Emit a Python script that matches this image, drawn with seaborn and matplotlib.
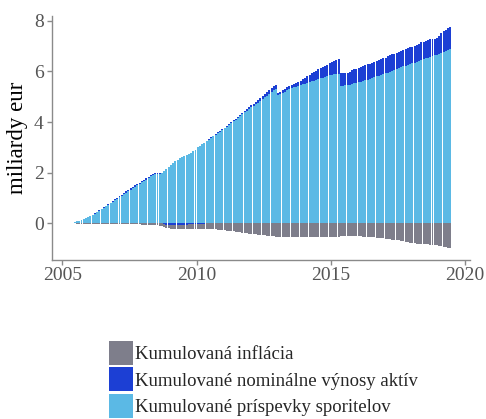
import numpy as np
import pandas as pd
import matplotlib
matplotlib.use("Agg")
import matplotlib.pyplot as plt
from matplotlib.patches import Patch
import seaborn as sns

# ---- data (monthly, May 2005 - Jun 2019), billions EUR ----
start_month = "2005-05"
labels = ["Kumulovaná inflácia",
          "Kumulované nominálne výnosy aktív",
          "Kumulované príspevky sporitelov"]
year_ticks = [2005, 2010, 2015, 2020]
y_ticks = [0, 2, 4, 6, 8]

contributions = [
    0.02, 0.05, 0.08, 0.11, 0.14, 0.17, 0.20, 0.24,                        # 2005
    0.28, 0.33, 0.38, 0.44, 0.50, 0.55, 0.61, 0.67, 0.73, 0.79, 0.85, 0.91,  # 2006
    0.97, 1.03, 1.09, 1.15, 1.21, 1.27, 1.33, 1.39, 1.45, 1.50, 1.56, 1.62,  # 2007
    1.67, 1.73, 1.79, 1.85, 1.90, 1.94, 1.95, 1.96, 2.00, 2.07, 2.14, 2.22,  # 2008
    2.30, 2.38, 2.45, 2.52, 2.58, 2.62, 2.65, 2.68, 2.72, 2.78, 2.84, 2.90,  # 2009
    3.00, 3.07, 3.13, 3.19, 3.25, 3.31, 3.37, 3.43, 3.49, 3.56, 3.62, 3.68,  # 2010
    3.75, 3.82, 3.89, 3.96, 4.03, 4.10, 4.17, 4.24, 4.31, 4.38, 4.45, 4.52,  # 2011
    4.58, 4.64, 4.70, 4.76, 4.83, 4.90, 4.97, 5.04, 5.11, 5.18, 5.26, 5.30,  # 2012
    5.08, 5.10, 5.15, 5.20, 5.25, 5.30, 5.34, 5.37, 5.40, 5.43, 5.46, 5.49,  # 2013
    5.52, 5.55, 5.58, 5.61, 5.64, 5.67, 5.70, 5.73, 5.76, 5.79, 5.82, 5.86,  # 2014
    5.87, 5.88, 5.89, 5.90, 5.44, 5.44, 5.45, 5.46, 5.48, 5.52, 5.54, 5.56,  # 2015
    5.58, 5.60, 5.62, 5.65, 5.68, 5.71, 5.74, 5.77, 5.80, 5.83, 5.86, 5.89,  # 2016
    5.92, 5.95, 5.99, 6.03, 6.06, 6.09, 6.12, 6.16, 6.20, 6.23, 6.26, 6.29,  # 2017
    6.32, 6.35, 6.39, 6.42, 6.46, 6.49, 6.52, 6.55, 6.58, 6.61, 6.63, 6.65,  # 2018
    6.68, 6.72, 6.76, 6.80, 6.84, 6.88,                                      # 2019
]

nominal_returns = [
    0.00, 0.00, 0.00, 0.00, 0.00, 0.01, 0.01, 0.01,                          # 2005
    0.01, 0.01, 0.01, 0.01, 0.02, 0.02, 0.02, 0.03, 0.03, 0.03, 0.03, 0.04,  # 2006
    0.04, 0.04, 0.04, 0.04, 0.05, 0.05, 0.05, 0.05, 0.05, 0.05, 0.05, 0.05,  # 2007
    0.05, 0.04, 0.04, 0.04, 0.03, 0.03, 0.02, 0.01, 0.00, -0.03, -0.05, -0.06,  # 2008
    -0.06, -0.06, -0.06, -0.06, -0.05, -0.05, -0.05, -0.05, -0.04, -0.04, -0.04, -0.03,  # 2009
    -0.03, -0.02, -0.02, -0.01, 0.01, 0.02, 0.02, 0.02, 0.02, 0.03, 0.03, 0.03,  # 2010
    0.03, 0.03, 0.03, 0.03, 0.04, 0.04, 0.04, 0.04, 0.05, 0.05, 0.06, 0.07,  # 2011
    0.08, 0.09, 0.10, 0.10, 0.11, 0.12, 0.13, 0.14, 0.15, 0.16, 0.17, 0.17,  # 2012
    0.07, 0.08, 0.10, 0.11, 0.12, 0.13, 0.13, 0.14, 0.15, 0.16, 0.18, 0.20,  # 2013
    0.22, 0.25, 0.28, 0.31, 0.34, 0.36, 0.38, 0.40, 0.42, 0.44, 0.45, 0.46,  # 2014
    0.50, 0.55, 0.58, 0.59, 0.49, 0.48, 0.48, 0.47, 0.50, 0.53, 0.55, 0.55,  # 2015
    0.56, 0.57, 0.58, 0.59, 0.60, 0.60, 0.61, 0.62, 0.62, 0.63, 0.63, 0.63,  # 2016
    0.63, 0.64, 0.64, 0.64, 0.64, 0.64, 0.65, 0.65, 0.65, 0.66, 0.66, 0.66,  # 2017
    0.66, 0.67, 0.67, 0.68, 0.69, 0.69, 0.70, 0.70, 0.70, 0.69, 0.67, 0.66,  # 2018
    0.70, 0.78, 0.84, 0.85, 0.86, 0.86,                                      # 2019
]

inflation = [
    0.00, 0.00, -0.01, -0.01, -0.01, -0.01, -0.01, -0.01,                    # 2005
    -0.01, -0.01, -0.01, -0.01, -0.01, -0.02, -0.02, -0.02, -0.02, -0.02, -0.02, -0.02,  # 2006
    -0.02, -0.02, -0.02, -0.03, -0.03, -0.03, -0.03, -0.03, -0.04, -0.04, -0.04, -0.05,  # 2007
    -0.05, -0.05, -0.06, -0.06, -0.07, -0.08, -0.08, -0.09, -0.10, -0.11, -0.12, -0.13,  # 2008
    -0.15, -0.16, -0.17, -0.17, -0.17, -0.17, -0.17, -0.17, -0.17, -0.17, -0.17, -0.18,  # 2009
    -0.19, -0.19, -0.20, -0.20, -0.21, -0.21, -0.22, -0.23, -0.24, -0.25, -0.26, -0.27,  # 2010
    -0.28, -0.29, -0.30, -0.31, -0.32, -0.33, -0.34, -0.35, -0.37, -0.38, -0.40, -0.41,  # 2011
    -0.42, -0.43, -0.44, -0.45, -0.46, -0.47, -0.48, -0.49, -0.50, -0.51, -0.52, -0.53,  # 2012
    -0.54, -0.54, -0.55, -0.55, -0.55, -0.55, -0.56, -0.56, -0.56, -0.56, -0.56, -0.56,  # 2013
    -0.56, -0.56, -0.56, -0.56, -0.56, -0.56, -0.56, -0.56, -0.56, -0.56, -0.55, -0.55,  # 2014
    -0.54, -0.54, -0.53, -0.53, -0.52, -0.52, -0.51, -0.51, -0.51, -0.51, -0.51, -0.51,  # 2015
    -0.52, -0.52, -0.53, -0.53, -0.54, -0.54, -0.55, -0.56, -0.57, -0.58, -0.59, -0.60,  # 2016
    -0.61, -0.62, -0.63, -0.64, -0.65, -0.66, -0.67, -0.68, -0.70, -0.72, -0.74, -0.76,  # 2017
    -0.78, -0.79, -0.80, -0.80, -0.81, -0.81, -0.82, -0.83, -0.84, -0.85, -0.86, -0.86,  # 2018
    -0.88, -0.90, -0.92, -0.94, -0.96, -0.98,                                # 2019
]

# ---- styling ----
c_infl = "#7e7e8b"
c_ret = "#1c3fd4"
c_contr = "#5bb9e5"
axis_grey = "#8a8a8a"
text_grey = "#555555"

sns.set_theme(style="ticks")
plt.rcParams["font.family"] = ["Liberation Serif", "DejaVu Serif"]

dates = pd.date_range(start_month, periods=len(contributions), freq="MS")
x = dates.year + (dates.month - 0.5) / 12.0

contr = np.array(contributions)
ret = np.array(nominal_returns)
infl = np.array(inflation)
ret_pos = np.clip(ret, 0, None)
ret_neg = np.clip(ret, None, 0)

df = pd.DataFrame({
    "x": np.round(x, 4),
    "top": contr + ret_pos,
    "contr": contr,
    "bottom": infl + ret_neg,
    "retneg": ret_neg,
})

fig = plt.figure(figsize=(4.86, 4.19), dpi=100)
ax = fig.add_axes([51.5 / 486, 1 - 259.5 / 419, (470 - 51.5) / 486, (259.5 - 16.5) / 419])

common = dict(x="x", native_scale=True, width=0.88, saturation=1,
              errorbar=None, ax=ax, linewidth=0)
sns.barplot(data=df, y="top", color=c_ret, **common)
sns.barplot(data=df, y="contr", color=c_contr, **common)
sns.barplot(data=df, y="bottom", color=c_infl, **common)
sns.barplot(data=df, y="retneg", color=c_ret, **common)

ax.set_xlim(2004.59, 2020.19)
ax.set_ylim(-1.43, 8.17)
ax.set_xticks(year_ticks)
ax.set_xticklabels([str(v) for v in year_ticks])
ax.set_yticks(y_ticks)
ax.set_yticklabels([str(v) for v in y_ticks])
ax.set_xlabel("")
ax.set_ylabel("miliardy eur", fontsize=16.5, color="black", labelpad=4)

sns.despine(ax=ax)
for s in ["left", "bottom"]:
    ax.spines[s].set_color(axis_grey)
    ax.spines[s].set_linewidth(1.0)
ax.tick_params(axis="both", colors=axis_grey, length=3.5, width=1.0,
               labelcolor=text_grey, labelsize=14, pad=2)

handles = [Patch(facecolor=c, edgecolor="none") for c in (c_infl, c_ret, c_contr)]
fig.legend(handles, labels, loc="upper left",
           bbox_to_anchor=(109 / 486, 1 - 341 / 419),
           frameon=False, fontsize=13.5, handlelength=1.3, handleheight=1.6,
           handletextpad=0.1, labelspacing=0.12, borderpad=0, borderaxespad=0)

fig.savefig("out.png", dpi=100)
